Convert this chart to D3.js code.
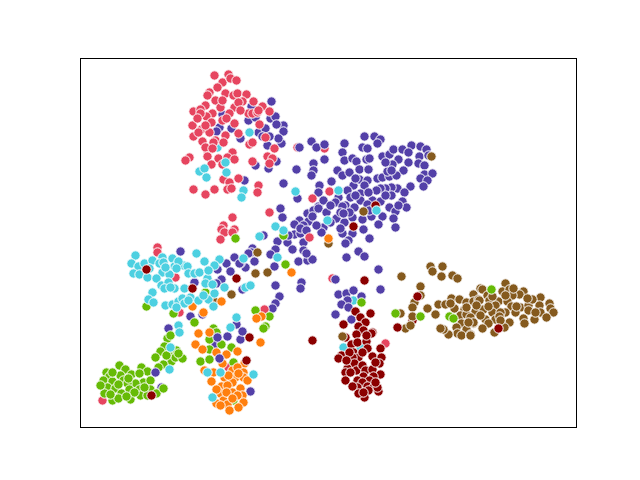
<!DOCTYPE html>
<html>
<head>
  <title>Clusters</title>
  <meta charset="utf8">
  <style type="text/css">
    body { margin: 0; background: #fff; }
    svg { display: block; }
  </style>
</head>
<body>

<script src="https://d3js.org/d3.v7.min.js"></script>

<script type="text/javascript">
// no ticks in the picture, so the units are just what was read off it
var purple = [[251,106],[271,101],[248,120],[255,117],[270,118],[275,116],[220,103],[219,127],[216,131],[231,128],[240,138],[258,132],[265,128],[283,125],[283,131],[267,145],[281,143],[278,138],[269,136],[255,165],[276,161],[268,168],[244,180],[283,183],[280,208],[282,217],[263,235],[252,248],[299,147],[311,141],[316,147],[324,144],[324,159],[344,143],[342,152],[344,160],[364,136],[374,136],[380,139],[377,143],[362,147],[367,148],[352,158],[356,161],[366,159],[359,169],[368,169],[337,170],[342,175],[349,172],[296,169],[313,163],[313,170],[311,175],[331,181],[319,185],[353,185],[359,179],[367,180],[364,185],[377,178],[382,177],[389,176],[382,156],[389,154],[393,149],[402,149],[411,145],[420,146],[426,149],[408,152],[419,156],[398,159],[392,164],[408,162],[418,163],[424,165],[403,170],[396,175],[387,171],[424,174],[432,173],[420,178],[427,180],[423,186],[410,186],[397,188],[391,187],[385,188],[404,192],[347,190],[360,193],[318,192],[297,198],[338,197],[335,202],[350,197],[345,205],[342,206],[360,200],[354,207],[372,200],[367,204],[380,201],[391,195],[402,201],[406,207],[389,207],[380,188],[395,211],[382,216],[371,216],[352,217],[393,218],[362,219],[336,218],[344,222],[323,227],[318,206],[323,200],[307,213],[313,210],[318,208],[326,212],[299,220],[308,221],[294,224],[303,225],[294,234],[300,233],[321,232],[303,242],[342,233],[352,233],[348,240],[363,229],[369,238],[378,224],[395,227],[345,243],[340,228],[358,251],[364,256],[346,257],[277,241],[287,242],[275,249],[270,254],[292,249],[303,250],[251,252],[254,261],[245,267],[240,263],[274,266],[298,261],[307,260],[312,259],[306,253],[301,282],[300,288],[275,285],[279,296],[275,303],[272,308],[335,279],[378,269],[380,289],[338,294],[346,293],[353,290],[361,296],[347,300],[341,304],[348,307],[335,314],[351,319],[226,263],[234,257],[239,263],[248,253],[217,269],[230,271],[221,279],[216,283],[242,289],[194,282],[190,316],[168,328],[202,314],[215,344],[250,391],[161,387],
  [369,158],[391,170],[385,162],[428,155],[376,190],[368,192],[355,178],[330,205],[312,216],[300,228],[288,235],[316,225],[330,222],[349,212],[375,209],[385,195],[369,210],[355,195],[340,212],[306,230],[276,124],[262,136],[222,114],[398,205],[343,213]];
var purpleTop = [[155,372],[217,337],[227,336],[240,339],[236,324],[242,331],[219,358],[180,251]];
var red = [[214,75],[228,74],[222,82],[230,78],[236,80],[217,87],[209,92],[207,95],[225,93],[233,95],[237,93],[246,94],[242,101],[215,100],[205,105],[193,111],[200,109],[220,107],[234,107],[253,101],[262,106],[269,111],[212,113],[206,116],[229,113],[248,113],[252,113],[211,122],[222,120],[192,125],[201,129],[193,136],[209,132],[234,123],[259,124],[238,133],[225,135],[202,141],[215,140],[223,142],[249,144],[265,137],[207,150],[274,148],[189,157],[218,158],[232,152],[267,156],[272,158],[227,157],[200,113],[238,102],[257,112],[213,142],[205,147],[252,142],[185,160],[207,156],[234,159],[211,164],[222,164],[252,161],[269,163],[223,179],[238,178],[229,182],[227,189],[231,188],[193,189],[205,194],[214,189],[258,185],[257,192],[269,212],[232,217],[223,225],[221,229],[224,232],[234,229],[232,232],[220,239],[329,191],[312,198],[309,237],[157,247],[157,252],[264,309],[385,343],[102,400],[228,367],
  [222,100],[226,118],[205,125],[197,118],[212,148],[240,110],[258,110],[198,132]];
var redBack = [[324,148],[297,147],[175,277],[179,312],[332,278]];
var brown = [[431,156],[363,211],[328,243],[257,252],[255,273],[267,272],[342,336],[231,294],[214,301],[401,276],[430,266],[432,271],[442,266],[441,276],[452,275],[457,278],[420,286],[420,295],[414,302],[412,307],[400,313],[412,316],[427,308],[435,314],[405,328],[410,325],[438,304],[445,304],[451,298],[459,299],[473,294],[466,302],[454,308],[473,301],[478,299],[475,311],[464,309],[460,315],[466,314],[470,317],[461,323],[473,323],[466,329],[456,327],[457,333],[461,335],[470,334],[448,334],[443,329],[440,328],[480,288],[482,289],[505,283],[502,291],[509,289],[523,291],[519,294],[512,295],[479,300],[487,295],[489,300],[498,301],[507,301],[495,305],[511,306],[483,309],[492,312],[505,312],[520,307],[528,305],[540,297],[532,299],[539,305],[549,303],[528,310],[540,312],[550,308],[553,312],[546,317],[534,319],[523,318],[524,323],[509,322],[495,319],[485,319],[488,323],[473,322],[482,328],[504,327],[494,332],[470,335],[500,312],[515,312],
  [476,305],[492,296],[505,295],[516,306],[488,306],[480,315],[499,316],[535,312],[468,322],[466,307],[500,320],[513,288],[527,298],[450,303]];
var green = [[235,238],[283,235],[285,264],[361,302],[255,310],[269,316],[265,326],[263,328],[146,306],[205,292],[173,313],[194,322],[167,338],[213,328],[216,332],[209,339],[395,313],[420,316],[449,316],[453,318],[491,289],[170,335],[164,346],[160,351],[155,357],[170,353],[176,350],[171,361],[175,357],[182,358],[163,364],[158,367],[119,365],[141,367],[147,371],[106,372],[109,376],[103,380],[125,369],[120,375],[112,381],[123,380],[131,374],[143,382],[150,380],[135,383],[107,387],[104,393],[115,388],[127,383],[129,389],[139,389],[121,393],[112,400],[118,398],[130,399],[140,395],[150,389],[156,393],[163,388],[147,395],[110,394],[200,361],[209,359],[209,349],[221,344],[231,347],[233,362],[233,400],[227,391],
  [112,372],[128,378],[139,373],[118,384],[134,392],[126,396],[144,387],[100,385],[166,355],[178,353]];
var orange = [[198,333],[209,332],[195,344],[202,349],[216,352],[226,354],[237,351],[260,342],[222,363],[232,370],[244,363],[204,370],[213,372],[237,367],[243,372],[235,377],[243,377],[224,377],[211,381],[221,386],[232,382],[227,385],[240,388],[220,393],[232,392],[242,395],[237,395],[223,400],[216,403],[243,402],[227,404],[238,407],[229,410],[220,405],[203,312],[192,306],[221,301],[328,238],[291,272],[261,316],[256,318],
  [228,375],[238,373],[216,389],[226,392],[232,398],[247,380]];
var cyan = [[249,132],[199,171],[204,168],[206,177],[226,172],[225,162],[243,190],[241,197],[295,191],[275,226],[283,230],[259,236],[338,190],[327,220],[376,210],[135,255],[131,263],[138,266],[133,273],[139,274],[147,277],[144,263],[152,260],[162,257],[159,263],[163,262],[172,258],[174,266],[183,265],[187,266],[196,253],[204,261],[219,259],[214,265],[188,273],[194,273],[199,272],[162,272],[156,278],[169,274],[161,285],[168,282],[164,288],[174,288],[184,288],[152,292],[148,299],[153,302],[165,305],[172,304],[178,301],[182,298],[184,303],[190,297],[198,300],[208,299],[214,293],[213,306],[207,278],[205,283],[212,284],[224,287],[245,287],[250,285],[178,325],[179,332],[230,327],[236,317],[243,258],[277,257],[343,347],[360,347],[170,347],[169,369],[207,372],[220,372],[253,374],[212,397],
  [149,268],[165,267],[178,261],[170,287],[188,300],[176,307],[203,295],[176,268],[208,270]];
var cyanBack = [[353,300],[217,147]];
var darkred = [[353,226],[146,269],[192,288],[236,278],[249,337],[246,360],[151,395],[364,280],[312,340],[355,311],[370,313],[343,324],[360,317],[365,322],[358,326],[363,330],[372,332],[371,333],[356,334],[351,344],[357,342],[366,341],[367,348],[353,352],[341,355],[338,358],[358,357],[380,348],[372,356],[381,357],[379,363],[352,357],[354,363],[347,368],[345,372],[356,370],[362,365],[365,370],[372,369],[380,374],[373,376],[363,376],[345,380],[357,380],[369,380],[362,382],[357,387],[367,386],[373,387],[378,391],[377,387],[368,390],[364,397],[358,393],[417,296],[397,327],[498,328],
  [349,352],[362,352],[375,362],[350,372],[375,382],[352,386],[363,392],[346,360],[366,335]];
var darkredBack = [[375,205],[412,320],[345,337]];

var series = [
  { pts: cyanBack, color: '#4dd0e1' },
  { pts: redBack, color: '#e6455f' },
  { pts: purple, color: '#5340a8' },
  { pts: red, color: '#e6455f' },
  { pts: darkredBack, color: '#8b0000' },
  { pts: brown, color: '#855a1e' },
  { pts: green, color: '#66bb06' },
  { pts: orange, color: '#ff7f0e' },
  { pts: purpleTop, color: '#5340a8' },
  { pts: cyan, color: '#4dd0e1' },
  { pts: darkred, color: '#8b0000' }
];

var width = 640, height = 480;
var left = 80.5, right = 576.5, top_ = 58.5, bottom = 427.5;

var svg = d3.select('body').append('svg')
    .attr('width', width)
    .attr('height', height);

var x = d3.scaleLinear().domain([80, 576]).range([left, right]);
var y = d3.scaleLinear().domain([58, 427]).range([top_, bottom]);

svg.selectAll('g.series')
    .data(series)
  .enter().append('g')
    .attr('class', 'series')
    .attr('fill', function(d) { return d.color; })
  .selectAll('circle')
    .data(function(d) { return d.pts; })
  .enter().append('circle')
    .attr('cx', function(d) { return x(d[0]); })
    .attr('cy', function(d) { return y(d[1]); })
    .attr('r', 4.7)
    .attr('stroke', '#fff')
    .attr('stroke-width', 1);

svg.append('rect')
    .attr('x', left)
    .attr('y', top_)
    .attr('width', right - left)
    .attr('height', bottom - top_)
    .attr('fill', 'none')
    .attr('stroke', '#000')
    .attr('stroke-width', 1);
</script>

</body>
</html>
